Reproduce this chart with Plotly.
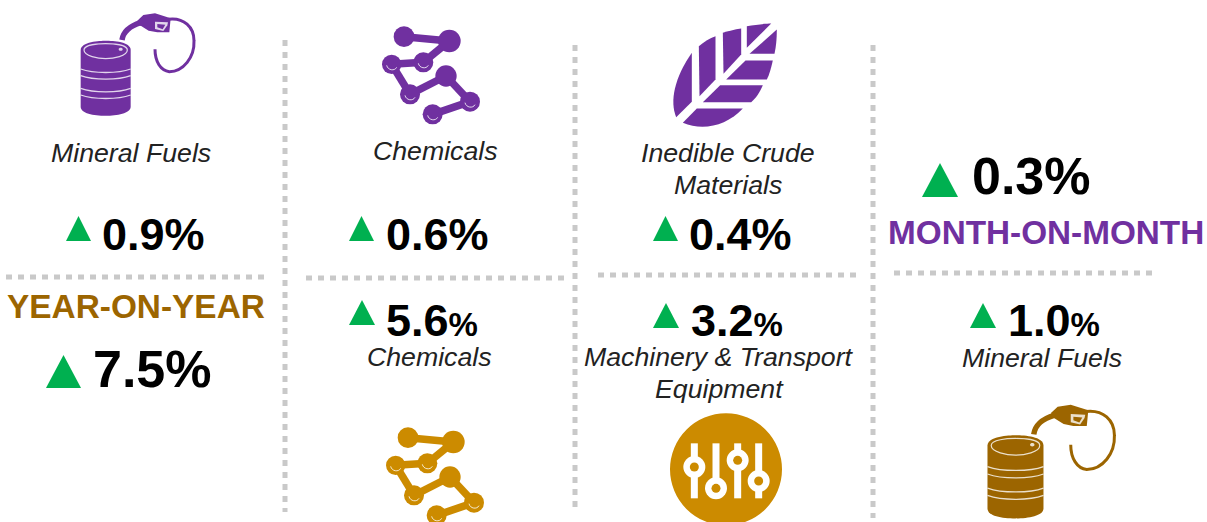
import re
import plotly.graph_objects as go

# ---- data ----
top_categories = ["Mineral Fuels", "Chemicals", "Inedible Crude<br>Materials"]
top_changes = [0.9, 0.6, 0.4]
bottom_categories = ["Chemicals", "Machinery &amp; Transport<br>Equipment", "Mineral Fuels"]
bottom_changes = [5.6, 3.2, 1.0]
headline_labels = ["YEAR-ON-YEAR", "MONTH-ON-MONTH"]
headline_changes = [7.5, 0.3]

# ---- style ----
PURPLE = "#7030A0"
BROWN = "#9C6500"
GOLD = "#CC8B00"
GREEN = "#00B050"
DOTS = "#C9C9C9"
SOFT_WHITE = "rgba(255,255,255,0.8)"
FONT = "Liberation Sans"
LABEL_SIZE = 26.7
LABEL_LEADING = 32

shapes, annotations = [], []


def xf(path, ox, oy, sx, sy):
    """Map an absolute-command icon path from icon units to canvas pixels."""
    toks = re.findall(r"[MLCZ]|-?\d+\.?\d*", path)
    out, i = [], 0
    while i < len(toks):
        if toks[i] in "MLCZ":
            out.append(toks[i])
            i += 1
        else:
            out.append(f"{ox + float(toks[i]) * sx:.2f},{oy + float(toks[i + 1]) * sy:.2f}")
            i += 2
    return " ".join(out)


def fill(path, color):
    shapes.append(dict(type="path", path=path, fillcolor=color, line=dict(width=0), xref="x", yref="y"))


def stroke(path, color, width):
    shapes.append(dict(type="path", path=path, fillcolor="rgba(0,0,0,0)",
                       line=dict(color=color, width=width), xref="x", yref="y"))


def circle(cx, cy, r, color, line=None, lw=0):
    shapes.append(dict(type="circle", x0=cx - r, x1=cx + r, y0=cy - r, y1=cy + r, fillcolor=color,
                       line=dict(color=line or color, width=lw), xref="x", yref="y"))


def dotted(x0, y0, x1, y1):
    shapes.append(dict(type="line", x0=x0, y0=y0, x1=x1, y1=y1, xref="x", yref="y",
                       line=dict(color=DOTS, width=5, dash="6px,6px")))


def triangle(left, top, w, h):
    fill(f"M{left},{top + h} L{left + w / 2},{top} L{left + w},{top + h} Z", GREEN)


def text(cx, cy, s, size, color="#000000", italic=False):
    annotations.append(dict(x=cx, y=cy, xref="x", yref="y", text=s, showarrow=False, xanchor="center",
                            yanchor="middle", align="center",
                            font=dict(family=FONT, size=size, color=color,
                                      style="italic" if italic else "normal")))


def label(cx, cy, s):
    for i, line in enumerate(s.split("<br>")):
        text(cx, cy + i * LABEL_LEADING, line, LABEL_SIZE, "#222222", True)


def barrel(ox, oy, sx, sy, color):
    a = lambda p: xf(p, ox, oy, sx, sy)
    fill(a("M62 150 C62 125 120 122 137 122 C160 122 212 125 212 150 L212 320 C212 340 170 347 137 347 "
           "C100 347 62 340 62 320 Z"), color)
    stroke(a("M72 150 C72 134 115 131 137 131 C160 131 202 134 202 150 C202 168 160 176 137 176 "
             "C115 176 72 168 72 150 Z"), SOFT_WHITE, 1.2)
    for y in (207, 227, 265, 285):
        stroke(a(f"M62 {y} C100 {y + 14} 175 {y + 14} 212 {y}"), SOFT_WHITE, 1.3)
    fill(a("M176 148 C176 142 188 142 188 148 C188 154 176 154 176 148 Z"), SOFT_WHITE)
    stroke(a("M186 120 C190 92 210 78 242 68"), color, 5.5)
    fill(a("M232 62 L250 45 L285 40 L332 55 L328 97 L292 97 L266 92 L240 76 Z"), color)
    fill(a("M285 65 L324 67 L322 76 L310 93 L285 87 Z"), SOFT_WHITE)
    fill(a("M292 72 L316 74 L308 88 L292 82 Z"), color)
    stroke(a("M325 58 C372 52 402 82 402 122 C404 172 370 215 328 215 C302 212 285 185 285 148"), color, 3)


def molecule(ox, oy, color):
    a = lambda x, y: (ox + x / 3, oy + y / 3)
    nodes = [(102, 65, 31), (238, 78, 34), (160, 142, 30), (65, 148, 29), (120, 238, 30),
             (228, 183, 32), (300, 260, 30), (188, 298, 30)]
    for (x0, y0, _), (x1, y1, _) in zip(nodes[:-1], nodes[1:]):
        p0, p1 = a(x0, y0), a(x1, y1)
        stroke(f"M{p0[0]:.2f},{p0[1]:.2f} L{p1[0]:.2f},{p1[1]:.2f}", color, 7.5)
    for x, y, r in nodes:
        cx, cy = a(x, y)
        circle(cx, cy, r / 3, color)
    for idx in (2, 3, 4, 6, 7):
        x, y, r = nodes[idx]
        cx, cy = a(x, y)
        stroke(f"M{cx - 5:.2f},{cy + 1:.2f} C{cx - 4:.2f},{cy + 6:.2f} {cx + 3:.2f},{cy + 7:.2f} {cx + 5:.2f},{cy + 3:.2f}",
               SOFT_WHITE, 1)


def leaf(ox, oy, color):
    pieces = [
        "M262 35 C290 30 320 27 335 27 L262 100 Z",
        "M352 45 C352 70 350 95 345 118 L270 118 Z",
        "M245 42 L245 120 L192 178 L190 55 C205 50 225 45 245 42 Z",
        "M168 65 L168 195 L120 245 L118 95 C135 80 150 72 168 65 Z",
        "M97 115 L97 262 L50 308 C30 260 45 190 97 115 Z",
        "M340 138 C335 160 330 180 322 195 L200 195 L258 138 Z",
        "M310 212 C300 235 290 250 275 263 L130 263 L182 212 Z",
        "M250 282 C200 335 130 350 70 325 L112 282 Z",
    ]
    for p in pieces:
        fill(xf(p, ox, oy, 1 / 3, 1 / 3), color)


def sliders(ox, oy, color):
    circle(ox + 195 / 3, oy + 175 / 3, 168 / 3, color)
    knobs = [(100, 168), (165, 232), (230, 148), (293, 210)]
    for x, y in knobs:
        px = ox + x / 3
        shapes.append(dict(type="rect", x0=px - 3.5, x1=px + 3.5, y0=oy + 97 / 3, y1=oy + 262 / 3,
                           fillcolor="white", line=dict(width=0), xref="x", yref="y"))
        circle(px, oy + y / 3, 11, "white")
        circle(px, oy + y / 3, 4.5, color)


# ---- separators ----
dotted(285, 40, 285, 512)
dotted(575, 45, 575, 512)
dotted(873, 45, 873, 518)
dotted(6, 277, 264, 277)
dotted(306, 278, 565, 278)
dotted(598, 275, 856, 275)
dotted(894, 273, 1152, 273)

# ---- icons ----
barrel(60, 0, 1 / 3, 1 / 3, PURPLE)
molecule(370, 15, PURPLE)
leaf(659.5, 14.5, PURPLE)
molecule(374, 416, GOLD)
sliders(661, 411, GOLD)
barrel(970 - 17 / 3, 400 - 30 / 3, 1.12 / 3, 1.11 / 3, BROWN)

# ---- text and arrows ----
for cx, cy, s in zip((131, 435, 728), (153, 151, 153), top_categories):
    label(cx, cy, s)
for cx, v, tri in zip((153, 437, 740), top_changes, ((66, 216), (349, 216), (653, 216))):
    text(cx, 234, f"<b>{v:.1f}%</b>", 45)
    triangle(tri[0], tri[1], 25, 25)
for cx, cy, s in zip((429, 719, 1042), (357, 357, 358), bottom_categories):
    label(cx, cy, s)
for cx, v, tri in zip((432, 736.5, 1053.5), bottom_changes, ((349, 300), (653, 303), (970, 303))):
    text(cx, 320, f'<b>{v:.1f}<span style="font-size:33px">%</span></b>', 45)
    triangle(tri[0], tri[1], 26, 25)
text(136, 306, f"<b>{headline_labels[0]}</b>", 33.4, BROWN)
text(1046, 232, f"<b>{headline_labels[1]}</b>", 33.3, PURPLE)
text(152, 369, f"<b>{headline_changes[0]:.1f}%</b>", 52)
triangle(46, 355, 35, 33)
text(1031, 176, f"<b>{headline_changes[1]:.1f}%</b>", 52)
triangle(922, 163, 36, 34)

fig = go.Figure()
fig.update_layout(
    width=1207, height=522, margin=dict(l=0, r=0, t=0, b=0),
    paper_bgcolor="white", plot_bgcolor="white", showlegend=False,
    xaxis=dict(range=[0, 1207], visible=False, fixedrange=True),
    yaxis=dict(range=[522, 0], visible=False, fixedrange=True),
    shapes=shapes, annotations=annotations,
)
fig.write_html("out.html", config=dict(displayModeBar=False),
               post_script="document.body.style.margin='0';document.body.style.overflow='hidden';")
